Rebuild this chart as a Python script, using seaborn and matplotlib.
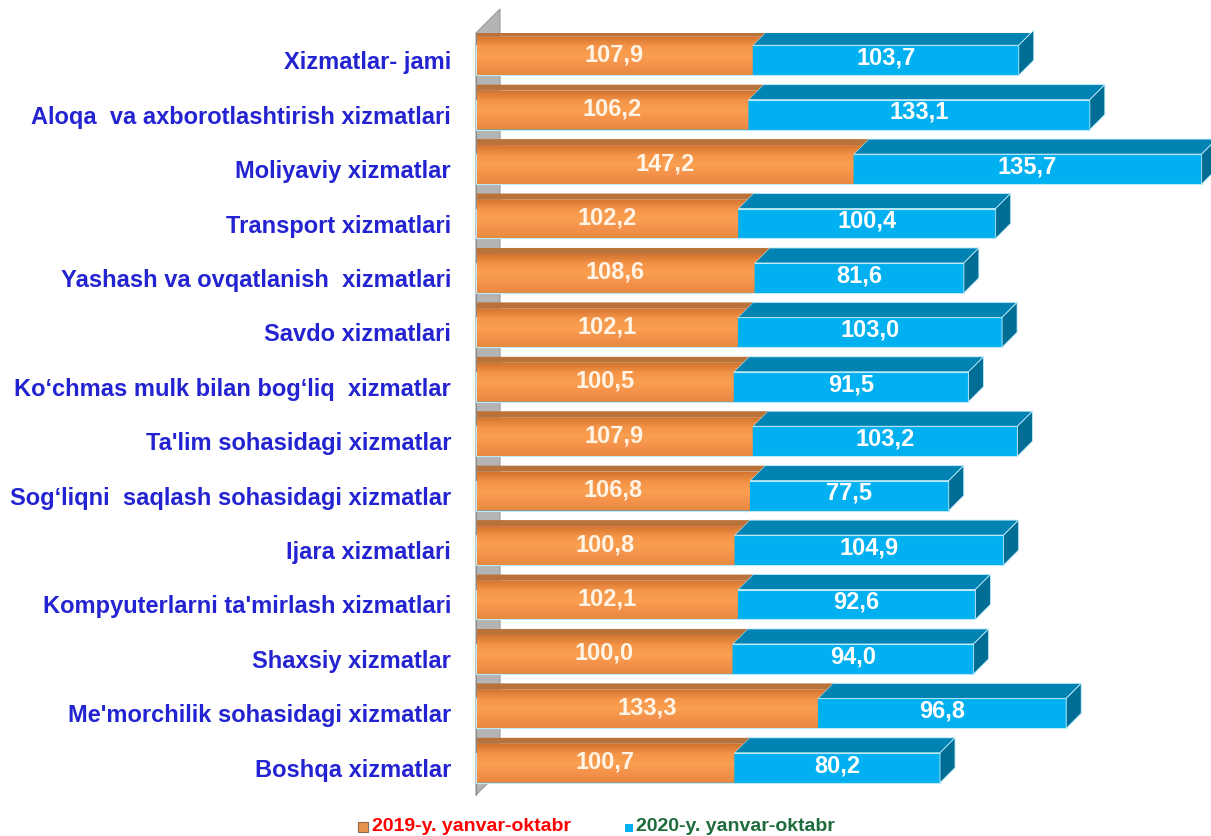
import numpy as np
import pandas as pd
import matplotlib.pyplot as plt
import seaborn as sns
from matplotlib.patches import Polygon, Rectangle
from matplotlib.colors import LinearSegmentedColormap

categories = [
    "Xizmatlar- jami",
    "Aloqa  va axborotlashtirish xizmatlari",
    "Moliyaviy xizmatlar",
    "Transport xizmatlari",
    "Yashash va ovqatlanish  xizmatlari",
    "Savdo xizmatlari",
    "Ko\u2018chmas mulk bilan bog\u2018liq  xizmatlar",
    "Ta'lim sohasidagi xizmatlar",
    "Sog\u2018liqni  saqlash sohasidagi xizmatlar",
    "Ijara xizmatlari",
    "Kompyuterlarni ta'mirlash xizmatlari",
    "Shaxsiy xizmatlar",
    "Me'morchilik sohasidagi xizmatlar",
    "Boshqa xizmatlar",
]
values_2019 = [107.9, 106.2, 147.2, 102.2, 108.6, 102.1, 100.5, 107.9, 106.8, 100.8, 102.1, 100.0, 133.3, 100.7]
values_2020 = [103.7, 133.1, 135.7, 100.4, 81.6, 103.0, 91.5, 103.2, 77.5, 104.9, 92.6, 94.0, 96.8, 80.2]
series_names = ["2019-y. yanvar-oktabr", "2020-y. yanvar-oktabr"]

df = pd.DataFrame({"cat": categories, "v2019": values_2019, "v2020": values_2020})
df["total"] = df["v2019"] + df["v2020"]

ORANGE = "#F79646"
ORANGE_TOP = "#B9733A"
BLUE = "#00B0F0"
BLUE_TOP = "#0083B3"
BLUE_SIDE = "#006D94"
LABEL_BLUE = "#2323D2"
orange_grad = LinearSegmentedColormap.from_list(
    "og", ["#D27430", "#F59447", "#FA9F50", "#F4914A", "#E88A40"])

sns.set_style("white")
plt.rcParams["font.family"] = ["Liberation Sans", "DejaVu Sans"]

fig = plt.figure(figsize=(12.11, 8.36), dpi=100)
W, H = 1211, 836
ax = fig.add_axes([476 / W, 1 - 795 / H, 1 - 476 / W, (795 - 33) / H])

bar_w = 0.55
# blue = full stack, orange drawn over it
sns.barplot(data=df, y="cat", x="total", color=BLUE, orient="h", width=bar_w,
            edgecolor="#BDEBFB", linewidth=0.8, saturation=1, ax=ax, zorder=3)
sns.barplot(data=df, y="cat", x="v2019", color=ORANGE, orient="h", width=bar_w,
            linewidth=0, saturation=1, ax=ax, zorder=4)

xmax = (W - 476) / 2.565
ylim = (len(categories) - 0.5, -0.5)

# depth of 3d faces, converted from pixels
px_x = xmax / (W - 476)
px_y = len(categories) / (795 - 33)
dx, dy = 15 * px_x, 15 * px_y
wdx, wdy = 24 * px_x, 24 * px_y

# side wall
wall = Polygon([(0, len(categories) - 0.5), (0, -0.5), (wdx, -0.5 - wdy),
                (wdx, len(categories) - 0.5 - wdy)], closed=True,
               facecolor="#B4B4B4", edgecolor="#9A9A9A", lw=0.8, zorder=1, clip_on=False)
ax.add_patch(wall)

blue_bars = ax.containers[0]
orange_bars = ax.containers[1]
grad = np.linspace(0, 1, 64).reshape(-1, 1)
for rb, ro in zip(blue_bars, orange_bars):
    ro.set_visible(False)
    ft = rb.get_y()
    fb = rb.get_y() + rb.get_height()
    o = ro.get_width()
    t = rb.get_width()
    k = 0.6
    front = Polygon([(0.3, fb), (o, fb), (o, ft), (o + k * dx, ft - k * dy), (0.3, ft - k * dy)],
                    facecolor="none", lw=0, zorder=4)
    ax.add_patch(front)
    im = ax.imshow(grad, cmap=orange_grad, aspect="auto", zorder=4,
                   extent=(0.3, o + k * dx, fb, ft - k * dy), origin="upper")
    im.set_clip_path(front)
    ax.add_patch(Polygon([(0.3, ft - k * dy), (o + k * dx, ft - k * dy), (o + dx, ft - dy), (0.3, ft - dy)],
                         facecolor=ORANGE_TOP, lw=0, zorder=4))
    ax.add_patch(Polygon([(o, ft), (t, ft), (t + dx, ft - dy), (o + dx, ft - dy)],
                         facecolor=BLUE_TOP, edgecolor="#BDEBFB", lw=0.6, zorder=3))
    ax.add_patch(Polygon([(t, fb), (t, ft), (t + dx, ft - dy), (t + dx, fb - dy)],
                         facecolor=BLUE_SIDE, edgecolor="#BDEBFB", lw=0.6, zorder=3,
                         clip_on=False))

ax.set_xlim(0, xmax)
ax.set_ylim(*ylim)

for i, (a, b) in enumerate(zip(values_2019, values_2020)):
    ax.text(a / 2, i - 0.1, f"{a:.1f}".replace(".", ","), ha="center", va="center",
            color="#FFF4E6", fontsize=17, fontweight="bold", zorder=6)
    ax.text(a + b / 2, i - 0.04, f"{b:.1f}".replace(".", ","), ha="center", va="center",
            color="white", fontsize=17, fontweight="bold", zorder=6)

for s in ["top", "right", "bottom"]:
    ax.spines[s].set_visible(False)
ax.spines["left"].set_color("#8C8C8C")
ax.spines["left"].set_zorder(2)
ax.set_xticks([])
ax.set_xlabel("")
ax.set_ylabel("")
ax.set_yticks(range(len(categories)))
ax.set_yticklabels(categories)
ax.set_yticks(np.arange(-0.5, len(categories)), minor=True)
ax.tick_params(axis="y", which="major", length=0, pad=18, labelsize=17,
               labelcolor=LABEL_BLUE)
ax.tick_params(axis="y", which="minor", length=7, color="#8C8C8C", width=1)
for lbl in ax.get_yticklabels():
    lbl.set_fontweight("bold")
    lbl.set_y(lbl.get_position()[1])
ax.set_facecolor("none")
ax.grid(False)

# legend at bottom
fig.patches.append(Rectangle((358 / W, 1 - 832 / H), 10 / W, 10 / H, transform=fig.transFigure,
                             facecolor="#E8944F", edgecolor="#8A6A50", lw=0.8))
fig.text(372 / W, 1 - 831 / H, series_names[0], color="#FF0000", fontsize=14,
         fontweight="bold", va="baseline", ha="left")
fig.patches.append(Rectangle((625 / W, 1 - 832 / H), 8 / W, 8 / H, transform=fig.transFigure,
                             facecolor=BLUE, edgecolor="none"))
fig.text(636 / W, 1 - 831 / H, series_names[1], color="#1E6B3C", fontsize=14,
         fontweight="bold", va="baseline", ha="left")

fig.savefig("out.png", dpi=100)
